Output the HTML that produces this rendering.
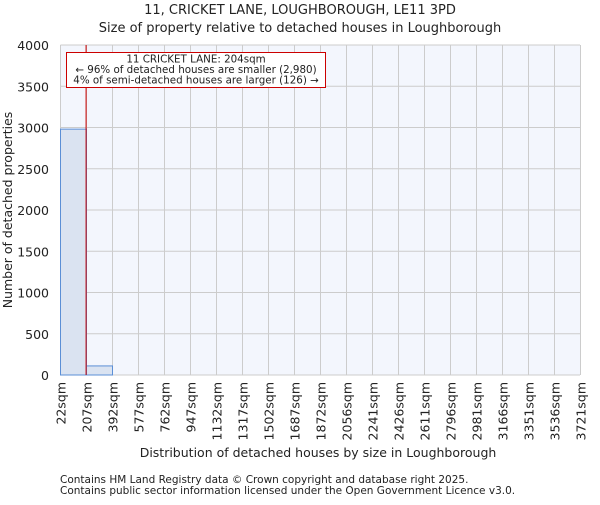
<!DOCTYPE html>
<html><head><meta charset="utf-8"><style>
body{margin:0;background:#fff;font-family:"Liberation Sans","DejaVu Sans",sans-serif}
svg text{font-family:"DejaVu Sans","Liberation Sans",sans-serif;fill:#222}
</style></head><body>
<svg id="c" width="600" height="500">
<text x="300" y="14" text-anchor="middle" font-size="13">11, CRICKET LANE, LOUGHBOROUGH, LE11 3PD</text>
<text x="300" y="32" text-anchor="middle" font-size="13">Size of property relative to detached houses in Loughborough</text>
<rect x="60.5" y="45" width="519.5" height="330" fill="#f3f6fd"/>
<g id="grid"></g><g id="bars"></g><g id="ax"></g>
<text transform="translate(12,210) rotate(-90)" text-anchor="middle" font-size="12.5">Number of detached properties</text>
<text x="318" y="457" text-anchor="middle" font-size="12.5">Distribution of detached houses by size in Loughborough</text>
<text x="60" y="483" font-size="10.5" fill="#444">Contains HM Land Registry data © Crown copyright and database right 2025.</text>
<text x="60" y="494" font-size="10.5" fill="#444">Contains public sector information licensed under the Open Government Licence v3.0.</text>
</svg>
<script>
const binEdges=[22,207,392,577,762,947,1132,1317,1502,1687,1872,2056,2241,2426,2611,2796,2981,3166,3351,3536,3721];
const tickLabels=["22sqm","207sqm","392sqm","577sqm","762sqm","947sqm","1132sqm","1317sqm","1502sqm","1687sqm","1872sqm","2056sqm","2241sqm","2426sqm","2611sqm","2796sqm","2981sqm","3166sqm","3351sqm","3536sqm","3721sqm"];
const counts=[2980,110,0,0,0,0,0,0,0,0,0,0,0,0,0,0,0,0,0,0];
const yTicks=[0,500,1000,1500,2000,2500,3000,3500,4000];
const propertySize=204;
const NS="http://www.w3.org/2000/svg";
const X0=60.5,STEP=26,Y0=375,YH=330,YMAX=4000;
function xi(i){return X0+i*STEP;}
function xv(v){for(let i=0;i<binEdges.length-1;i++){if(v<=binEdges[i+1])return xi(i)+(v-binEdges[i])/(binEdges[i+1]-binEdges[i])*STEP;}return xi(binEdges.length-1);}
function y(v){return Y0-v/YMAX*YH;}
function mk(t,a,p){const e=document.createElementNS(NS,t);for(const k in a)e.setAttribute(k,a[k]);document.getElementById(p).appendChild(e);return e;}
tickLabels.forEach((l,i)=>{
 const g=mk("line",{x1:xi(i),x2:xi(i),y1:45,y2:375,stroke:"#ccc","stroke-width":1},"grid");
 
 
 const t=mk("text",{transform:`translate(${xi(i)+5},382) rotate(-90)`,"text-anchor":"end","font-size":"12.5"},"ax");
 t.textContent=l;
 
 
});
yTicks.forEach(v=>{
 const g=mk("line",{x1:60.5,x2:580,y1:y(v),y2:y(v),stroke:"#ccc","stroke-width":1},"grid");
 
 
 const t=mk("text",{x:49,y:y(v)+5,"text-anchor":"end","font-size":"12.5"},"ax");
 t.textContent=v;
 
 
});
counts.forEach((c,i)=>{
 if(c<=0)return;
 const r=mk("rect",{x:xi(i),y:y(c),width:STEP,height:Y0-y(c),fill:"#dae3f1",stroke:"#5b8fd6","stroke-width":1},"bars");
 
 
});
const px=xv(propertySize);
const ml=mk("line",{x1:px,x2:px,y1:45,y2:375,stroke:"#cc0000","stroke-width":1},"ax");


const bx=mk("rect",{x:66.5,y:52.5,width:259,height:35,fill:"#fff",stroke:"#cc0000","stroke-width":1},"ax");


["11 CRICKET LANE: 204sqm","← 96% of detached houses are smaller (2,980)","4% of semi-detached houses are larger (126) →"].forEach((s,i)=>{
 const t=mk("text",{x:196,y:62.5+i*10.5,"text-anchor":"middle","font-size":"10.3"},"ax");
 t.textContent=s;
 
 
});
</script>
</body></html>
